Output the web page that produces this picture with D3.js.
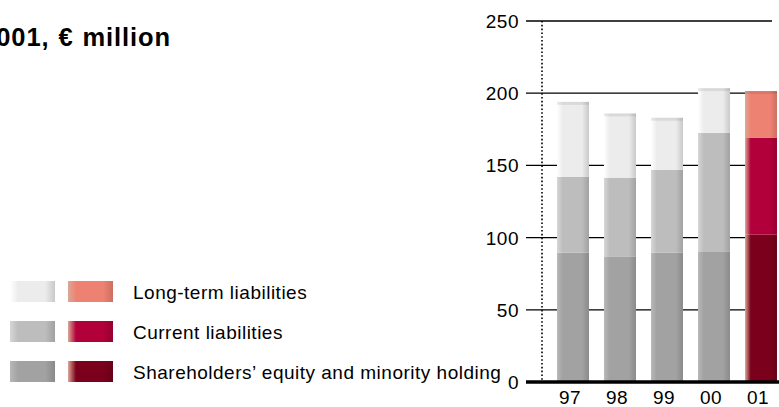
<!DOCTYPE html>
<html lang="en">
    <head>
        <meta charset="utf-8">
        <title>Balance sheet structure</title>
        <script type="text/javascript" src="https://d3js.org/d3.v7.js"></script>
        <style>
            body { margin: 0; background: #fff; }
            svg { display: block; font-family: "Liberation Sans", Arial, sans-serif; }
        </style>
    </head>
    <body>
        <script>
            const w = 779;
            const h = 407;

            // data
            const years = ["97", "98", "99", "00", "01"];
            const equity = [89.5, 87, 89.5, 90.5, 102];
            const current = [52.5, 54.5, 57.5, 82, 67];
            const longTerm = [52, 44.5, 36, 31, 32.5];
            const yTicks = [0, 50, 100, 150, 200, 250];
            const seriesNames = ["Long-term liabilities", "Current liabilities", "Shareholders\u2019 equity and minority holding"];

            const greys = { lt: "#ececec", cur: "#bdbdbd", eq: "#a2a2a2" };
            const reds = { lt: "#ee8272", cur: "#b1003a", eq: "#7b001c" };

            const rows = years.map(function(y, i) {
                return { year: y, eq: equity[i], cur: current[i], lt: longTerm[i] };
            });
            const keys = ["eq", "cur", "lt"];
            const stacked = d3.stack().keys(keys)(rows);

            const svg = d3.select("body")
                        .append("svg")
                        .attr("width", w)
                        .attr("height", h);

            // horizontal gradients to fake the rounded bar look
            const defs = svg.append("defs");
            function grad(id, c, edge) {
                const base = d3.color(c);
                const g = defs.append("linearGradient").attr("id", id)
                    .attr("x1", "0%").attr("x2", "100%").attr("y1", "0%").attr("y2", "0%");
                g.append("stop").attr("offset", "0%").attr("stop-color", edge || base.brighter(0.35));
                g.append("stop").attr("offset", "18%").attr("stop-color", base);
                g.append("stop").attr("offset", "78%").attr("stop-color", base);
                g.append("stop").attr("offset", "100%").attr("stop-color", base.darker(0.45));
            }
            keys.forEach(function(k) {
                grad("g-" + k, greys[k]);
                grad("r-" + k, reds[k], "#dba896");
            });

            const yScale = d3.scaleLinear().domain([0, 250]).range([382, 21]);
            const xScale = d3.scaleBand().domain(years)
                             .range([549.5, 784.5])
                             .paddingInner(0.32).paddingOuter(0.16);

            // title (left part falls outside the picture, as in the original)
            svg.append("text")
               .attr("x", 171).attr("y", 46)
               .attr("text-anchor", "end")
               .attr("font-weight", "bold")
               .attr("font-size", "25.5px")
               .attr("letter-spacing", "0.9px")
               .attr("word-spacing", "1px")
               .text("Balance sheet structure 1997\u20132001, \u20ac million");

            // gridlines
            svg.append("g").selectAll("line")
               .data(yTicks.filter(function(d) { return d > 0; }))
               .enter().append("line")
               .attr("x1", 526).attr("x2", 772)
               .attr("y1", function(d) { return yScale(d); })
               .attr("y2", function(d) { return yScale(d); })
               .attr("stroke", "#000").attr("stroke-width", 1.3);

            // tick labels
            svg.append("g").selectAll("text")
               .data(yTicks)
               .enter().append("text")
               .attr("x", 519)
               .attr("y", function(d) { return yScale(d) + 7; })
               .attr("text-anchor", "end")
               .attr("font-size", "19px")
               .attr("letter-spacing", "0.5px")
               .text(function(d) { return d; });

            // dotted vertical line
            svg.append("line")
               .attr("x1", 542).attr("x2", 542)
               .attr("y1", yScale(250)).attr("y2", yScale(0))
               .attr("stroke", "#000").attr("stroke-width", 1.6)
               .attr("stroke-dasharray", "1.6,2.2");

            // bars
            svg.append("g").selectAll("g")
               .data(stacked)
               .enter().append("g")
               .selectAll("rect")
               .data(function(s) { return s.map(function(d) { return { key: s.key, d: d }; }); })
               .enter().append("rect")
               .attr("x", function(o) { return xScale(o.d.data.year); })
               .attr("width", xScale.bandwidth())
               .attr("y", function(o) { return yScale(o.d[1]); })
               .attr("height", function(o) { return yScale(o.d[0]) - yScale(o.d[1]); })
               .attr("fill", function(o) {
                   return (o.d.data.year === "01" ? "url(#r-" : "url(#g-") + o.key + ")";
               });

            // small bevel on the bar tops
            svg.append("g").selectAll("rect")
               .data(rows)
               .enter().append("rect")
               .attr("x", function(d) { return xScale(d.year); })
               .attr("width", xScale.bandwidth())
               .attr("y", function(d) { return yScale(d.eq + d.cur + d.lt); })
               .attr("height", 3)
               .attr("fill", "#000").attr("opacity", 0.08);

            // thick baseline
            svg.append("line")
               .attr("x1", 526).attr("x2", 779)
               .attr("y1", yScale(0)).attr("y2", yScale(0))
               .attr("stroke", "#000").attr("stroke-width", 3.5);

            // x labels
            svg.append("g").selectAll("text")
               .data(years)
               .enter().append("text")
               .attr("x", function(d) { return xScale(d) + xScale.bandwidth() / 2 - 3; })
               .attr("y", 404)
               .attr("text-anchor", "middle")
               .attr("font-size", "19px")
               .attr("letter-spacing", "0.5px")
               .text(function(d) { return d; });

            // legend
            const legend = svg.append("g").selectAll("g")
               .data(["lt", "cur", "eq"])
               .enter().append("g")
               .attr("transform", function(d, i) { return "translate(0," + (281 + i * 40) + ")"; });
            legend.append("rect")
               .attr("x", 10).attr("width", 45).attr("height", 21)
               .attr("fill", function(d) { return "url(#g-" + d + ")"; });
            legend.append("rect")
               .attr("x", 68).attr("width", 45).attr("height", 21)
               .attr("fill", function(d) { return "url(#r-" + d + ")"; });
            legend.append("text")
               .attr("x", 133).attr("y", 18)
               .attr("font-size", "19px")
               .attr("letter-spacing", "0.5px")
               .text(function(d, i) { return seriesNames[i]; });
        </script>
    </body>
</html>
